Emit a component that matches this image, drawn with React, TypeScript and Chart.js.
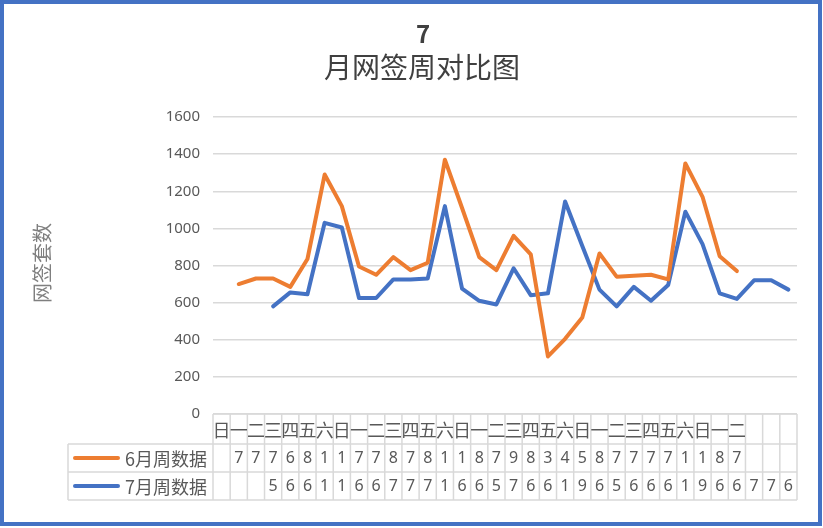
import { useEffect, useRef } from 'react'
import { Chart, registerables } from 'chart.js'

Chart.register(...registerables)

// 34 columns: four full weeks plus 日一二, then three blank columns
const weekdays = [
  '日', '一', '二', '三', '四', '五', '六',
  '日', '一', '二', '三', '四', '五', '六',
  '日', '一', '二', '三', '四', '五', '六',
  '日', '一', '二', '三', '四', '五', '六',
  '日', '一', '二', '', '', '',
]

const juneValues = [
  null, 700, 730, 730, 685, 835, 1290, 1120, 795, 750, 845, 775, 815, 1370,
  1110, 845, 775, 960, 860, 310, 405, 520, 865, 740, 745, 750, 725, 1350,
  1170, 850, 770, null, null, null,
]

const julyValues = [
  null, null, null, 580, 655, 645, 1030, 1005, 625, 625, 725, 725, 730, 1120,
  675, 610, 590, 785, 640, 650, 1145, 905, 670, 580, 685, 610, 695, 1090,
  915, 650, 620, 720, 720, 670,
]

const seriesNames = ['6月周数据', '7月周数据']
const seriesColors = ['#ED7D31', '#4472C4']

const cjk = '"Noto Sans CJK SC", "Noto Sans", sans-serif'
const gridColor = '#d9d9d9'

const excelPlugin = {
  id: 'excelFrame',
  beforeDraw(chart: any) {
    const { ctx, width, height } = chart
    ctx.save()
    ctx.fillStyle = '#fff'
    ctx.fillRect(0, 0, width, height)
    ctx.restore()
  },
  afterDraw(chart: any) {
    const { ctx, chartArea } = chart
    const xs = chart.scales.x
    const n = weekdays.length
    const left = chartArea.left
    const right = chartArea.right
    const cw = (right - left) / n
    const top = chartArea.bottom
    const r1 = top + 30
    const r2 = r1 + 28
    const r3 = r2 + 28
    const legendLeft = 68

    ctx.save()
    // title
    ctx.fillStyle = '#404040'
    ctx.textAlign = 'center'
    ctx.textBaseline = 'middle'
    ctx.font = 'bold 24px ' + cjk
    ctx.fillText('7', 423, 34)
    ctx.font = '28px ' + cjk
    ctx.fillText('月网签周对比图', 422, 67)

    // y axis title
    ctx.save()
    ctx.translate(42, 263)
    ctx.rotate(-Math.PI / 2)
    ctx.fillStyle = '#7f7f7f'
    ctx.font = '20px ' + cjk
    ctx.fillText('网签套数', 0, 0)
    ctx.restore()

    // data table grid
    ctx.strokeStyle = gridColor
    ctx.lineWidth = 1.5
    ctx.beginPath()
    ctx.moveTo(left, top)
    ctx.lineTo(right, top)
    for (const y of [r1, r2, r3]) {
      ctx.moveTo(legendLeft, y)
      ctx.lineTo(right, y)
    }
    for (let i = 0; i <= n; i++) {
      const x = left + i * cw
      ctx.moveTo(x, top)
      ctx.lineTo(x, r3)
    }
    ctx.moveTo(legendLeft, r1)
    ctx.lineTo(legendLeft, r3)
    ctx.stroke()

    // header row
    ctx.fillStyle = '#595959'
    ctx.font = '18px ' + cjk
    weekdays.forEach((d, i) => {
      if (!d) return
      const cx = xs.getPixelForValue(i)
      ctx.save()
      ctx.beginPath()
      ctx.rect(cx - cw / 2, top, cw, r1 - top)
      ctx.clip()
      ctx.fillText(d, cx, (top + r1) / 2 + 1)
      ctx.restore()
    })

    // value rows, text wrapped inside each narrow cell
    ctx.font = '16px "Noto Sans", sans-serif'
    const rows = [
      { vals: juneValues, y0: r1, y1: r2 },
      { vals: julyValues, y0: r2, y1: r3 },
    ]
    rows.forEach(({ vals, y0, y1 }) => {
      vals.forEach((v, i) => {
        if (v == null) return
        const cx = xs.getPixelForValue(i)
        const lines: string[] = []
        let cur = ''
        for (const ch of String(v)) {
          if (cur && ctx.measureText(cur + ch).width > cw - 2) {
            lines.push(cur)
            cur = ch
          } else cur += ch
        }
        lines.push(cur)
        ctx.save()
        ctx.beginPath()
        ctx.rect(cx - cw / 2, y0, cw, y1 - y0)
        ctx.clip()
        lines.forEach((l, k) => ctx.fillText(l, cx, (y0 + y1) / 2 + k * (y1 - y0)))
        ctx.restore()
      })
    })

    // legend keys inside the table
    ;[r1, r2].forEach((y0, k) => {
      const cy = y0 + 14
      ctx.strokeStyle = seriesColors[k]
      ctx.lineWidth = 4
      ctx.lineCap = 'round'
      ctx.beginPath()
      ctx.moveTo(75, cy)
      ctx.lineTo(118, cy)
      ctx.stroke()
      ctx.fillStyle = '#595959'
      ctx.textAlign = 'left'
      ctx.font = '18px ' + cjk
      ctx.fillText(seriesNames[k], 125, cy + 1)
    })

    // outer frame
    ctx.strokeStyle = '#4472C4'
    ctx.lineWidth = 4
    ctx.strokeRect(2, 2, 818, 522)
    ctx.restore()
  },
}

export default function App() {
  const canvasRef = useRef<HTMLCanvasElement | null>(null)
  const chartRef = useRef<Chart | null>(null)

  useEffect(() => {
    const ctx = canvasRef.current?.getContext('2d')
    if (!ctx) return
    chartRef.current = new Chart(ctx, {
      type: 'line',
      data: {
        labels: weekdays,
        datasets: [
          {
            label: seriesNames[0],
            data: juneValues,
            borderColor: seriesColors[0],
            backgroundColor: seriesColors[0],
          },
          {
            label: seriesNames[1],
            data: julyValues,
            borderColor: seriesColors[1],
            backgroundColor: seriesColors[1],
          },
        ],
      },
      options: {
        responsive: false,
        animation: false,
        devicePixelRatio: 1,
        layout: { padding: { top: 117, right: 26, bottom: 114, left: 0 } },
        elements: {
          line: { borderWidth: 4, borderCapStyle: 'round', borderJoinStyle: 'round', tension: 0 },
          point: { radius: 0, hoverRadius: 0 },
        },
        plugins: {
          legend: { display: false },
          tooltip: { enabled: false },
          title: { display: false },
        },
        scales: {
          x: {
            display: false,
            offset: true,
          },
          y: {
            min: 0,
            max: 1600,
            afterFit: (s: any) => {
              s.width = 213
            },
            border: { display: false },
            grid: { color: gridColor, lineWidth: 1.5, drawTicks: false },
            ticks: {
              stepSize: 200,
              padding: 13,
              color: '#595959',
              font: { family: '"Noto Sans", sans-serif', size: 15 },
              callback: (v: any) => String(v),
            },
          },
        },
      },
      plugins: [excelPlugin],
    })
    return () => chartRef.current?.destroy()
  }, [])

  return (
    <div style={{ position: 'absolute', left: 0, top: 0, width: 823, height: 528 }}>
      <canvas ref={canvasRef} width={823} height={528} />
    </div>
  )
}
